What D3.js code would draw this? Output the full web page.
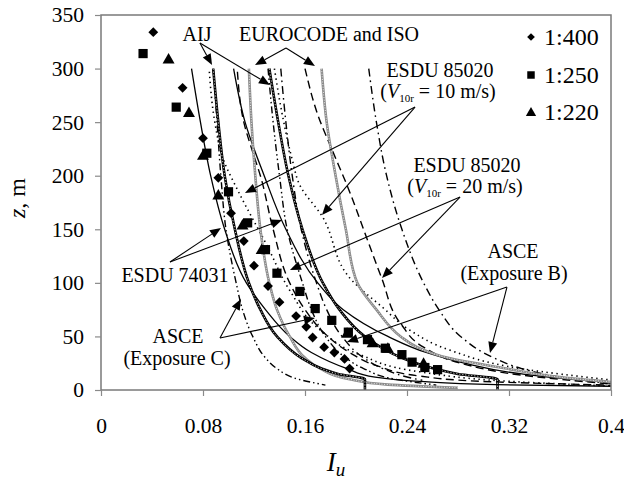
<!DOCTYPE html>
<html><head><meta charset="utf-8">
<script src="https://cdn.jsdelivr.net/npm/d3@7"></script>
<style>
body{margin:0;background:#fff;}
svg{display:block;font-family:"Liberation Serif","Times New Roman",serif;}
</style></head>
<body><svg id="c" width="624" height="482"></svg>
<script>
// ---------- DATA ----------
const xTicks = [0, 0.08, 0.16, 0.24, 0.32, 0.4];
const xTickLabels = ["0", "0.08", "0.16", "0.24", "0.32", "0.4"];
const yTicks = [0, 50, 100, 150, 200, 250, 300, 350];

// wind-tunnel measurements (Iu, z)
const m400Iu = [0.041,0.064,0.080,0.092,0.102,0.112,0.120,0.131,0.140,0.153,0.161,0.166,0.175,0.183,0.191,0.195];
const m400z  = [334,282,235,198,165,139,116,97,82,69,59,49,40,35,29,20];
const m250Iu = [0.033,0.059,0.083,0.100,0.115,0.129,0.138,0.156,0.168,0.181,0.194,0.209,0.223,0.236,0.244,0.254,0.264];
const m250z  = [314,264,221,185,156,131,109,92,76,65,54,47,39,33,26,21,19];
const m220Iu = [0.053,0.069,0.080,0.092,0.111,0.126,0.193,0.213,0.225,0.253];
const m220z  = [309,259,219,182,154,131,53,44,39,25];

// code profiles: heights z (m) and intensities Iu
const esdu74031A_z  = [300,250,200,150,100,75,50,35,20,12,8,5,3.5];
const esdu74031A_Iu = [0.071,0.078,0.086,0.097,0.114,0.129,0.148,0.165,0.193,0.215,0.25,0.31,0.40];
const esdu74031B_z  = [300,250,200,150,100,75,50,35,25,15,10,7.5];
const esdu74031B_Iu = [0.104,0.113,0.128,0.145,0.170,0.190,0.225,0.255,0.285,0.33,0.37,0.40];
const aijA_z  = [300,250,200,150,100,75,50,30,20,15,10,0];
const aijA_Iu = [0.088,0.092,0.097,0.105,0.116,0.125,0.138,0.157,0.173,0.186,0.207,0.207];
const aijB_z  = [300,250,200,150,100,75,50,30,20,15,10,0];
const aijB_Iu = [0.132,0.139,0.147,0.158,0.174,0.187,0.207,0.236,0.261,0.280,0.311,0.311];
const euroA_z  = [300,250,200,150,100,75,50,30,20,10,5,2];
const euroA_Iu = [0.116,0.118,0.121,0.125,0.132,0.138,0.148,0.160,0.172,0.195,0.225,0.28];
const euroB_z  = [300,250,200,150,100,75,50,40,30,20,12,7.5];
const euroB_Iu = [0.173,0.177,0.184,0.192,0.201,0.216,0.235,0.248,0.272,0.318,0.36,0.40];
const esdu10A_z  = [297,252,215,187,133,93,56,33,17,7.5,3.7];
const esdu10A_Iu = [0.085,0.089,0.096,0.107,0.131,0.148,0.172,0.203,0.25,0.329,0.40];
const esdu10B_z  = [300,252,215,191,163,102,77,56,37,20,9.3];
const esdu10B_Iu = [0.136,0.143,0.150,0.156,0.173,0.197,0.221,0.242,0.274,0.329,0.40];
const esdu20A_z  = [297,250,222,200,150,100,75,50,35,22,13,8,4.5];
const esdu20A_Iu = [0.107,0.112,0.119,0.125,0.135,0.148,0.160,0.178,0.195,0.218,0.25,0.30,0.40];
const esdu20B_z  = [300,257,222,191,140,105,62,40,25,14,5.6];
const esdu20B_Iu = [0.160,0.170,0.182,0.193,0.209,0.220,0.235,0.253,0.282,0.329,0.40];
const asceCA_z  = [300,250,200,150,100,75,50,30,20,10,4.6];
const asceCA_Iu = [0.088,0.091,0.094,0.098,0.106,0.111,0.119,0.129,0.138,0.155,0.176];
const asceCB_z  = [300,250,200,150,100,75,50,30,20,10,4.6];
const asceCB_Iu = [0.131,0.135,0.140,0.146,0.158,0.165,0.176,0.192,0.206,0.231,0.263];
const asceBA_z  = [300,250,200,150,100,75,50,30,20,10,9.1];
const asceBA_Iu = [0.141,0.145,0.150,0.157,0.169,0.177,0.189,0.206,0.221,0.248,0.252];
const asceBB_z  = [300,250,200,150,100,75,50,30,20,12,9.1,6.2];
const asceBB_Iu = [0.210,0.216,0.224,0.236,0.253,0.265,0.282,0.308,0.330,0.36,0.376,0.40];

// ---------- LAYOUT ----------
const svg = d3.select("#c");
const L = 101, R = 611, T = 15, B = 390;
const x = d3.scaleLinear().domain([0, 0.4]).range([L, R]);
const y = d3.scaleLinear().domain([0, 350]).range([B, T]);
const zip = (zs, us) => zs.map((z, i) => ({z, iu: us[i]}));

svg.append("defs").append("clipPath").attr("id", "clip")
  .append("rect").attr("x", L).attr("y", T).attr("width", R - L).attr("height", B - T);

const line = d3.line().x(d => x(d.iu)).y(d => y(d.z)).curve(d3.curveMonotoneY);
const plot = svg.append("g").attr("clip-path", "url(#clip)");

const styles = {
  solid:  [{stroke: "#000", w: 1.3}],
  aij:    [{stroke: "#000", w: 2.6}, {stroke: "#fff", w: 0.8, dash: "1.2,1.8"}],
  euro:   [{stroke: "#8a8a8a", w: 2.6}, {stroke: "#fff", w: 0.8, dash: "1,1.6"}],
  dotted: [{stroke: "#000", w: 1.6, dash: "1.4,3.6"}],
  dashed: [{stroke: "#000", w: 1.4, dash: "8,4.5"}],
  dashdotdot: [{stroke: "#000", w: 1.4, dash: "7,3,1.5,3,1.5,3"}],
  dashdot: [{stroke: "#000", w: 1.4, dash: "8,4,1.6,4"}]
};
const curves = [
  [esdu74031A_z, esdu74031A_Iu, "solid"],
  [esdu74031B_z, esdu74031B_Iu, "solid"],
  [esdu10A_z, esdu10A_Iu, "dotted"],
  [esdu10B_z, esdu10B_Iu, "dotted"],
  [esdu20A_z, esdu20A_Iu, "dashed"],
  [esdu20B_z, esdu20B_Iu, "dashed"],
  [asceCA_z, asceCA_Iu, "dashdotdot"],
  [asceCB_z, asceCB_Iu, "dashdotdot"],
  [asceBA_z, asceBA_Iu, "dashdot"],
  [asceBB_z, asceBB_Iu, "dashdot"],
  [euroA_z, euroA_Iu, "euro"],
  [euroB_z, euroB_Iu, "euro"],
  [aijA_z, aijA_Iu, "aij"],
  [aijB_z, aijB_Iu, "aij"]
];
curves.forEach(([zs, us, st]) => {
  styles[st].forEach(s => {
    plot.append("path").datum(zip(zs, us))
      .attr("d", line).attr("fill", "none")
      .attr("stroke", s.stroke).attr("stroke-width", s.w)
      .attr("stroke-dasharray", s.dash || null);
  });
});

// markers
const sym = {
  diamond: d3.symbol().type(d3.symbolSquare).size(48),
  square: d3.symbol().type(d3.symbolSquare).size(85),
  triangle: d3.symbol().type(d3.symbolTriangle).size(62)
};
const mk = svg.append("g");
zip(m400z, m400Iu).forEach(d => mk.append("path").attr("d", sym.diamond())
  .attr("transform", `translate(${x(d.iu)},${y(d.z)}) rotate(45)`).attr("fill", "#000"));
zip(m250z, m250Iu).forEach(d => mk.append("path").attr("d", sym.square())
  .attr("transform", `translate(${x(d.iu)},${y(d.z)})`).attr("fill", "#000"));
zip(m220z, m220Iu).forEach(d => mk.append("path").attr("d", sym.triangle())
  .attr("transform", `translate(${x(d.iu)},${y(d.z) + 1})`).attr("fill", "#000"));

// frame + axes
svg.append("rect").attr("x", L).attr("y", T).attr("width", R - L).attr("height", B - T)
  .attr("fill", "none").attr("stroke", "#7a7a7a").attr("stroke-width", 1.5);

const yAxis = svg.append("g").attr("transform", `translate(${L},0)`)
  .call(d3.axisLeft(y).tickValues(yTicks).tickSize(6).tickPadding(11).tickFormat(d3.format("d")));
const xAxis = svg.append("g").attr("transform", `translate(0,${B})`)
  .call(d3.axisBottom(x).tickValues(xTicks).tickSize(6).tickPadding(22)
    .tickFormat((d, i) => xTickLabels[i]));
[yAxis, xAxis].forEach(a => {
  a.select(".domain").remove();
  a.selectAll("line").attr("stroke", "#8a8a8a").attr("stroke-width", 1.2);
  a.selectAll("text").attr("font-family", "Liberation Serif").attr("font-size", 21.5).attr("fill", "#000");
});

// axis titles
svg.append("text").attr("transform", "translate(25,198) rotate(-90)")
  .attr("text-anchor", "middle").attr("font-size", 24)
  .html('<tspan font-style="italic">z</tspan>, m');
const xt = svg.append("text").attr("x", 336).attr("y", 471).attr("text-anchor", "middle").attr("font-size", 27);
xt.append("tspan").attr("font-style", "italic").text("I");
xt.append("tspan").attr("font-style", "italic").attr("font-size", 19).attr("dy", 5).text("u");

// legend
const leg = [["diamond", "1:400", 37], ["square", "1:250", 75], ["triangle", "1:220", 112]];
leg.forEach(([s, t, yy]) => {
  const p = s === "diamond" ? d3.symbol().type(d3.symbolSquare).size(30)
          : s === "square" ? d3.symbol().type(d3.symbolSquare).size(56)
          : d3.symbol().type(d3.symbolTriangle).size(46);
  svg.append("path").attr("d", p()).attr("fill", "#000")
    .attr("transform", `translate(531,${yy + (s === "triangle" ? 1 : 0)})${s === "diamond" ? " rotate(45)" : ""}`);
  svg.append("text").attr("x", 544).attr("y", yy + 8).attr("font-size", 24).text(t);
});

// annotations
const ann = svg.append("g");
function arrow(o, tip) {
  const x0 = x(o[0]), y0 = y(o[1]), x1 = x(tip[0]), y1 = y(tip[1]);
  const a = Math.atan2(y1 - y0, x1 - x0), len = 11, hw = 4.5;
  const bx = x1 - len * Math.cos(a), by = y1 - len * Math.sin(a);
  ann.append("line").attr("x1", x0).attr("y1", y0).attr("x2", bx).attr("y2", by)
    .attr("stroke", "#000").attr("stroke-width", 1.1);
  ann.append("path").attr("d", `M${x1},${y1}L${bx - hw * Math.sin(a)},${by + hw * Math.cos(a)}L${bx + hw * Math.sin(a)},${by - hw * Math.cos(a)}Z`)
    .attr("fill", "#000");
}
function label(px, py, txt) {
  ann.append("text").attr("x", px).attr("y", py).attr("text-anchor", "middle")
    .attr("font-size", 20).text(txt);
}
function vlabel(px, py, v) {
  const t = ann.append("text").attr("x", px).attr("y", py).attr("text-anchor", "middle").attr("font-size", 20);
  t.append("tspan").text("(");
  t.append("tspan").attr("font-style", "italic").text("V");
  t.append("tspan").attr("font-size", 11).attr("dy", 4).text("10r");
  t.append("tspan").attr("dy", -4).text(` = ${v} m/s)`);
}
// AIJ
label(197, 41, "AIJ");
arrow([0.0776, 323.9], [0.0871, 303.3]);
arrow([0.0776, 323.9], [0.1325, 284.7]);
// EUROCODE and ISO
label(329, 41, "EUROCODE and ISO");
arrow([0.1451, 319.2], [0.1208, 303.3]);
arrow([0.1451, 319.2], [0.1678, 302.4]);
// ESDU 85020 10
label(440, 77, "ESDU 85020");
vlabel(438, 98, 10);
arrow([0.2463, 264.1], [0.1129, 183.9]);
arrow([0.2463, 264.1], [0.1733, 163.3]);
// ESDU 85020 20
label(467, 172, "ESDU 85020");
vlabel(465, 193, 20);
arrow([0.2816, 180.1], [0.1482, 112.0]);
arrow([0.2816, 180.1], [0.2204, 104.5]);
// ASCE B
label(513, 258, "ASCE");
label(514, 280, "(Exposure B)");
arrow([0.3184, 96.1], [0.1929, 44.8]);
arrow([0.3184, 96.1], [0.3051, 34.5]);
// ESDU 74031
label(175, 282, "ESDU 74031");
arrow([0.0541, 119.5], [0.0941, 151.2]);
arrow([0.0541, 119.5], [0.1420, 158.7]);
// ASCE C
label(178, 343, "ASCE");
label(177, 365, "(Exposure C)");
arrow([0.0933, 48.5], [0.1098, 84.9]);
arrow([0.0933, 48.5], [0.1678, 67.2]);
</script></body></html>
